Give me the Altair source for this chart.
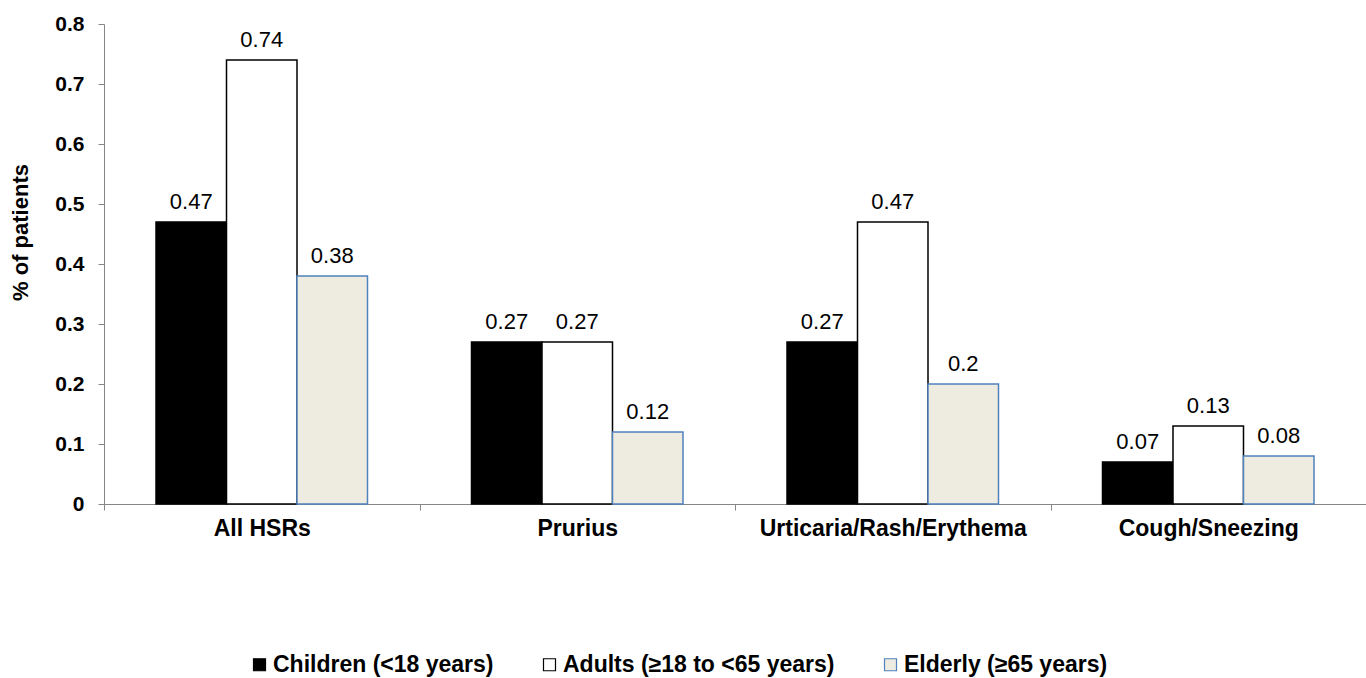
import altair as alt
import pandas as pd

# Hypersensitivity reactions by age group
categories = ["All HSRs", "Prurius", "Urticaria/Rash/Erythema", "Cough/Sneezing"]
groups = ["Children (<18 years)", "Adults (\u226518 to <65 years)", "Elderly (\u226565 years)"]
children = [0.47, 0.27, 0.27, 0.07]
adults = [0.74, 0.27, 0.47, 0.13]
elderly = [0.38, 0.12, 0.2, 0.08]

fills = ["#000000", "#ffffff", "#eeece1"]
strokes = ["#000000", "#000000", "#4f81bd"]

rows = []
for series, vals in zip(groups, [children, adults, elderly]):
    for cat, v in zip(categories, vals):
        rows.append({"category": cat, "group": series, "value": v, "label": f"{v:g}"})
df = pd.DataFrame(rows)

FONT = "Liberation Sans"

x_enc = alt.X(
    "category:N",
    sort=categories,
    scale=alt.Scale(paddingInner=0, paddingOuter=0),
    axis=alt.Axis(
        title=None,
        labelAngle=0,
        labelFontSize=23,
        labelFontWeight="bold",
        labelColor="#000000",
        labelPadding=7,
        labelLimit=0,
        tickBand="extent",
        tickSize=6,
        tickColor="#868686",
        domainColor="#868686",
        labelFont=FONT,
    ),
)
xoff = alt.XOffset("group:N", sort=groups, scale=alt.Scale(paddingInner=0, paddingOuter=0.7376))
y_enc = alt.Y(
    "value:Q",
    scale=alt.Scale(domain=[0, 0.8], nice=False),
    axis=alt.Axis(
        title="% of patients",
        values=[0, 0.1, 0.2, 0.3, 0.4, 0.5, 0.6, 0.7, 0.8],
        format=".1~f",
        grid=False,
        labelFontSize=21,
        labelFontWeight="bold",
        labelColor="#000000",
        labelPadding=14,
        labelFont=FONT,
        tickSize=6,
        tickColor="#868686",
        domainColor="#868686",
        titleFontSize=22,
        titleFontWeight="bold",
        titleFont=FONT,
        titleColor="#000000",
        titleAngle=270,
        titleAlign="center",
        titleBaseline="middle",
        titleX=-84,
        titleY=208,
    ),
)

legend = alt.Legend(
    title=None,
    orient="none",
    direction="horizontal",
    legendX=144,
    legendY=629,
    symbolType="square",
    symbolSize=144,
    symbolStrokeWidth=1.2,
    labelFontSize=23,
    labelFontWeight="bold",
    labelFont=FONT,
    labelColor="#000000",
    labelOffset=2,
    labelLimit=500,
    columnPadding=44,
)

bars = alt.Chart(df).mark_bar(strokeWidth=1.5).encode(
    x=x_enc,
    xOffset=xoff,
    y=y_enc,
    fill=alt.Fill("group:N", sort=groups, scale=alt.Scale(domain=groups, range=fills), legend=legend),
    stroke=alt.Stroke("group:N", sort=groups, scale=alt.Scale(domain=groups, range=strokes), legend=legend),
)

labels = alt.Chart(df).mark_text(
    baseline="alphabetic", dy=-13, fontSize=22, font=FONT, color="#000000"
).encode(
    x=alt.X("category:N", sort=categories),
    xOffset=alt.XOffset("group:N", sort=groups),
    y="value:Q",
    text="label:N",
)

chart = (
    alt.layer(bars, labels)
    .properties(
        width=1262,
        height=480,
        autosize=alt.AutoSizeParams(type="none"),
        padding={"left": 104, "top": 24, "right": 0, "bottom": 174},
        background="#ffffff",
    )
    .configure_view(stroke=None)
)

chart.save("out.html", embed_options={"renderer": "svg", "actions": False})
